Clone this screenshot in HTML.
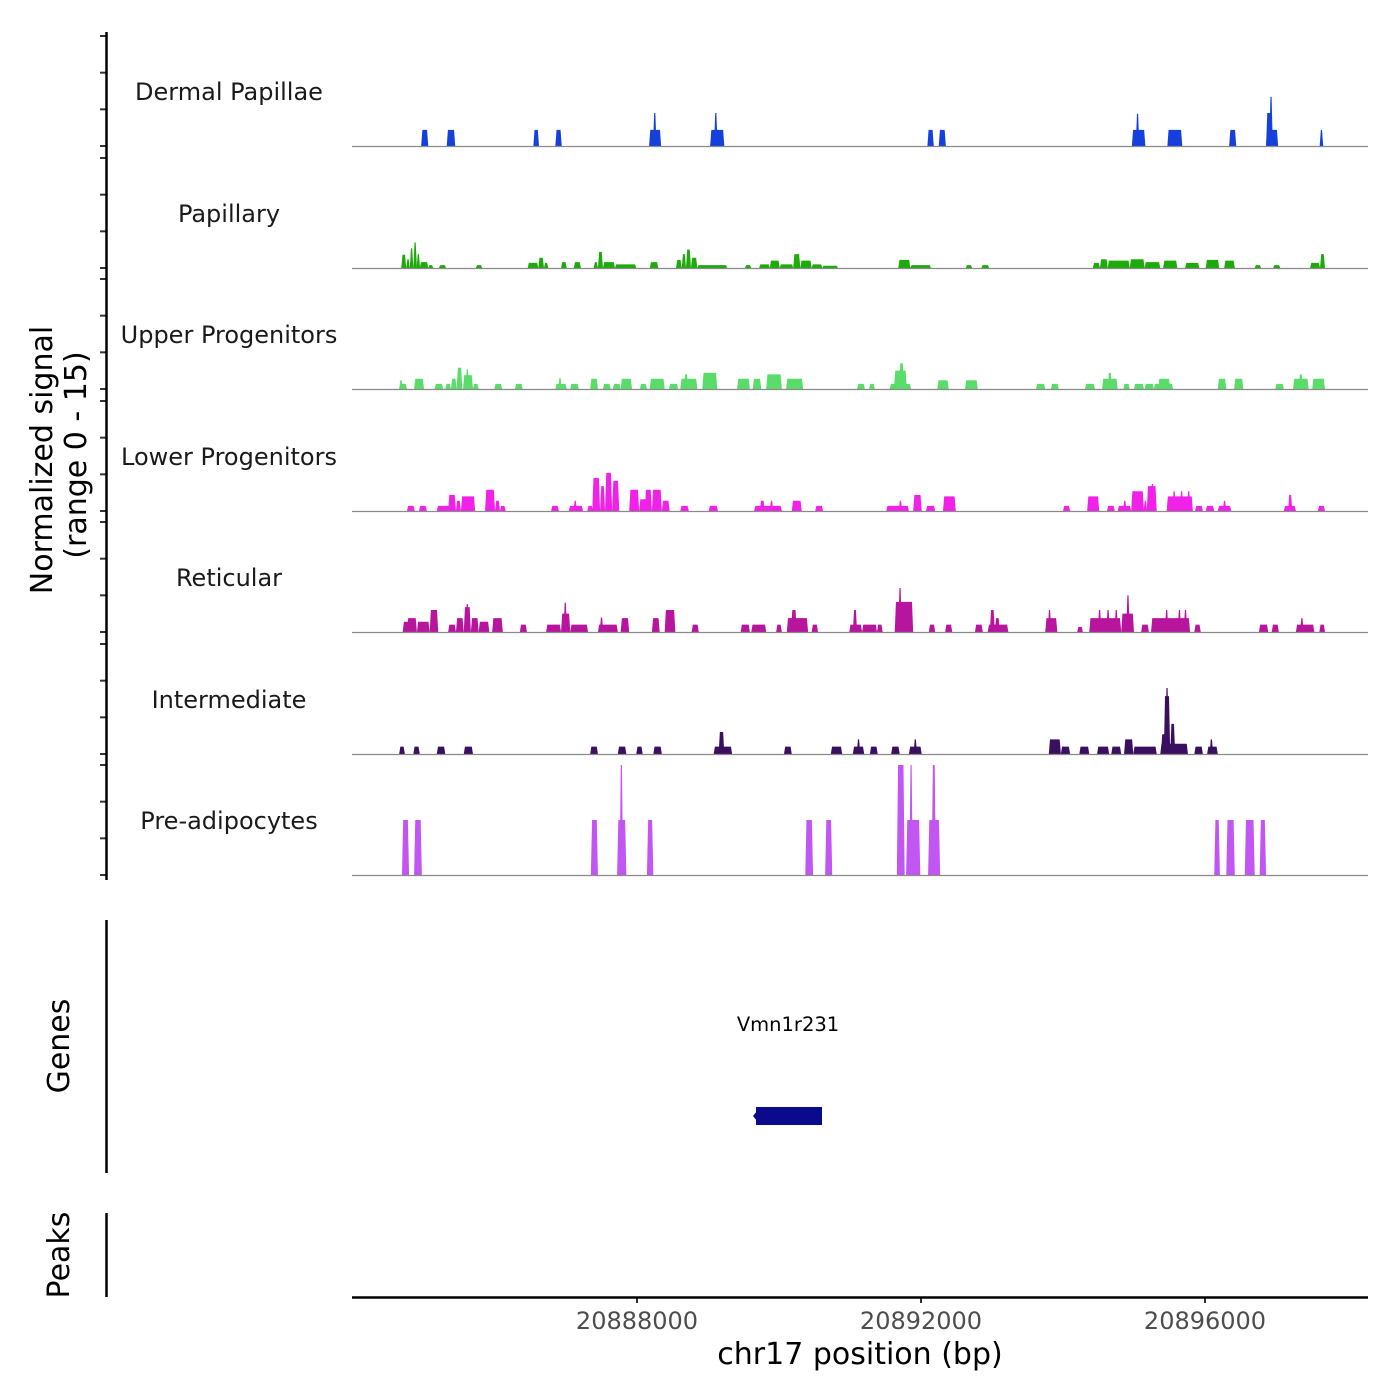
<!DOCTYPE html>
<html><head><meta charset="utf-8"><style>
html,body{margin:0;padding:0;background:#fff;}
svg{display:block;font-family:"DejaVu Sans","Liberation Sans",sans-serif;}
</style></head><body>
<svg id="chart" width="1400" height="1400" viewBox="0 0 1400 1400" xmlns="http://www.w3.org/2000/svg">
<rect width="1400" height="1400" fill="#fff"/>
<g id="tracks"></g>
<g id="axes"></g>
<text transform="translate(52,460) rotate(-90)" text-anchor="middle" font-size="30" fill="#000">Normalized signal</text>
<text transform="translate(86,455) rotate(-90)" text-anchor="middle" font-size="30" fill="#000">(range 0 - 15)</text>
<text transform="translate(69,1046) rotate(-90)" text-anchor="middle" font-size="30" fill="#000">Genes</text>
<text transform="translate(69,1255) rotate(-90)" text-anchor="middle" font-size="30" fill="#000">Peaks</text>
<line x1="106.5" y1="920" x2="106.5" y2="1173" stroke="#000" stroke-width="2.5"/>
<line x1="106.5" y1="1213" x2="106.5" y2="1297" stroke="#000" stroke-width="2.5"/>
<g id="gene">
<text x="788" y="1031" text-anchor="middle" font-size="19.5" fill="#000">Vmn1r231</text>
<rect x="756" y="1107" width="66" height="18" fill="#0a0a8c"/>
<polygon points="753,1116 757,1111 757,1121" fill="#0a0a8c"/>
</g>
<line x1="352" y1="1297.5" x2="1368" y2="1297.5" stroke="#000" stroke-width="2.5"/>
<text x="860" y="1364" text-anchor="middle" font-size="30" fill="#000">chr17 position (bp)</text>
</svg>
<script>
// genomic positions in kb offset from ORIGIN_BP, signal in range 0-15
const ORIGIN_BP = 20884000;
const xTicks = [20888000, 20892000, 20896000];
const trackNames = ["Dermal Papillae","Papillary","Upper Progenitors","Lower Progenitors","Reticular","Intermediate","Pre-adipocytes"];
const trackColors = ["#1540DC","#1DAA0B","#5ADC6A","#F022E8","#B8159E","#3B0F5F","#C156F2"];
const yTicks = [0,5,10,15];

const dermalPapillae = [[0.96,1.06,2.2],[1.32,1.44,2.2],[2.54,2.62,2.2],[2.85,2.94,2.2],[4.17,4.34,2.2],[4.23,4.27,4.5],[5.03,5.23,2.2],[5.09,5.13,4.5],[8.09,8.18,2.2],[8.25,8.35,2.2],[10.97,11.16,2.2],[11.03,11.07,4.4],[11.47,11.68,2.2],[12.34,12.44,2.2],[12.86,13.03,2.2],[12.86,12.94,4.5],[12.91,12.95,6.7],[13.62,13.66,2.2]];

const papillary = [[0.68,0.75,1.8],[0.75,0.80,1.2],[0.80,0.85,2.7],[0.85,0.90,3.5],[0.90,0.94,1.9],[0.94,1.06,0.8],[1.06,1.13,0.4],[1.21,1.31,0.4],[1.73,1.82,0.4],[2.46,2.61,0.7],[2.61,2.69,1.4],[2.69,2.75,0.7],[2.93,3.01,0.8],[3.11,3.21,0.8],[3.39,3.45,0.8],[3.45,3.52,2.2],[3.52,3.69,0.8],[3.69,3.99,0.5],[4.18,4.30,0.8],[4.55,4.63,1.1],[4.63,4.69,1.9],[4.69,4.76,2.5],[4.76,4.85,1.4],[4.85,5.27,0.4],[5.52,5.61,0.4],[5.72,5.87,0.5],[5.87,6.01,1.0],[6.01,6.20,0.5],[6.20,6.30,1.9],[6.30,6.46,1.0],[6.46,6.61,0.5],[6.61,6.83,0.3],[7.68,7.85,1.1],[7.85,8.14,0.4],[8.63,8.72,0.4],[8.85,8.96,0.4],[10.42,10.52,0.7],[10.52,10.63,1.2],[10.63,10.94,1.0],[10.94,11.15,1.2],[11.15,11.37,0.8],[11.41,11.61,1.0],[11.72,11.92,0.7],[12.01,12.20,1.1],[12.27,12.42,1.0],[12.70,12.79,0.4],[12.96,13.06,0.4],[13.48,13.62,0.7],[13.62,13.69,1.9]];

const upperProgenitors = [[0.65,0.76,0.7],[0.66,0.69,1.2],[0.86,1.00,1.4],[1.15,1.27,0.7],[1.30,1.38,0.7],[1.38,1.46,1.4],[1.46,1.54,2.9],[1.55,1.69,1.9],[1.59,1.63,2.7],[1.69,1.77,0.7],[1.99,2.10,0.7],[2.28,2.39,0.7],[2.85,3.01,0.7],[2.90,2.93,1.5],[3.06,3.18,0.7],[3.34,3.45,1.4],[3.52,3.63,0.7],[3.66,3.77,0.7],[3.77,3.93,1.4],[4.04,4.14,0.7],[4.18,4.39,1.4],[4.45,4.58,0.7],[4.61,4.85,1.4],[4.66,4.72,2.0],[4.92,5.13,2.2],[5.41,5.59,1.4],[5.63,5.75,1.4],[5.82,6.04,2.0],[6.10,6.34,1.4],[7.10,7.21,0.7],[7.27,7.35,0.7],[7.56,7.86,0.7],[7.62,7.80,2.5],[7.69,7.76,3.5],[8.23,8.39,1.2],[8.62,8.80,1.2],[9.62,9.75,0.7],[9.83,9.94,0.7],[10.31,10.45,0.7],[10.55,10.77,1.4],[10.63,10.69,2.2],[10.85,10.94,0.7],[11.00,11.14,0.7],[11.15,11.28,0.7],[11.28,11.55,0.7],[11.34,11.51,1.4],[12.18,12.30,1.4],[12.41,12.54,1.4],[12.99,13.11,0.7],[13.24,13.46,1.4],[13.32,13.38,2.0],[13.51,13.69,1.4]];

const lowerProgenitors = [[0.76,0.87,0.7],[0.93,1.04,0.7],[1.18,1.37,0.7],[1.34,1.45,2.2],[1.45,1.52,1.4],[1.52,1.72,2.0],[1.86,2.00,2.9],[2.00,2.07,1.4],[2.07,2.15,0.7],[2.79,2.90,0.7],[3.04,3.24,0.7],[3.11,3.15,1.4],[3.30,3.38,0.7],[3.37,3.48,4.5],[3.48,3.55,3.4],[3.55,3.65,5.2],[3.65,3.75,4.1],[3.89,4.03,2.9],[4.03,4.17,1.6],[4.11,4.21,2.9],[4.21,4.35,2.9],[4.35,4.46,1.4],[4.61,4.73,0.7],[5.01,5.14,0.7],[5.65,6.04,0.7],[5.73,5.80,1.4],[5.87,5.92,1.4],[6.18,6.32,1.4],[6.51,6.62,0.7],[7.51,7.83,0.7],[7.69,7.73,1.4],[7.89,8.01,2.2],[8.07,8.20,0.7],[8.31,8.49,2.0],[10.00,10.10,0.7],[10.34,10.51,2.0],[10.62,10.73,0.7],[10.77,10.96,0.7],[10.85,10.89,1.4],[10.96,11.14,2.7],[11.14,11.18,1.4],[11.18,11.32,3.4],[11.24,11.28,3.7],[11.46,11.83,2.0],[11.54,11.59,2.7],[11.65,11.69,2.7],[11.75,11.79,2.7],[11.86,11.97,0.7],[12.01,12.13,0.7],[12.18,12.37,0.7],[12.25,12.30,1.4],[13.11,13.28,0.7],[13.17,13.23,2.2],[13.59,13.69,0.7]];

const reticular = [[0.70,0.82,1.4],[0.76,0.90,1.9],[0.90,1.08,1.4],[1.08,1.20,3.0],[1.34,1.45,1.0],[1.45,1.56,1.9],[1.56,1.66,3.4],[1.59,1.63,3.8],[1.66,1.77,1.9],[1.77,1.92,1.4],[1.96,2.11,1.9],[2.35,2.45,1.0],[2.72,2.93,1.0],[2.93,3.06,2.5],[2.97,3.01,4.0],[3.06,3.31,1.0],[3.45,3.73,1.0],[3.48,3.52,2.0],[3.77,3.89,1.9],[4.21,4.32,1.9],[4.39,4.54,3.0],[4.77,4.87,1.0],[5.46,5.59,1.0],[5.61,5.82,1.0],[5.96,6.04,1.0],[6.11,6.41,1.9],[6.17,6.25,3.0],[6.46,6.55,1.0],[6.99,7.17,1.0],[7.04,7.10,3.0],[7.17,7.38,1.0],[7.38,7.46,1.0],[7.63,7.89,4.1],[7.68,7.73,6.0],[8.11,8.20,1.0],[8.34,8.44,1.0],[8.76,8.87,1.0],[8.94,9.23,1.0],[8.97,9.04,3.0],[9.04,9.11,1.9],[9.75,9.92,1.9],[9.79,9.83,3.0],[10.20,10.28,0.7],[10.37,10.82,1.9],[10.49,10.54,3.0],[10.61,10.66,3.0],[10.73,10.77,3.0],[10.82,11.00,2.5],[10.89,10.94,5.0],[11.10,11.21,1.0],[11.24,11.79,1.9],[11.44,11.48,3.0],[11.62,11.66,3.0],[11.70,11.75,3.0],[11.85,11.94,1.0],[12.76,12.89,1.0],[12.94,13.04,1.0],[13.28,13.54,1.0],[13.34,13.39,1.9],[13.61,13.69,1.0]];

const intermediate = [[0.65,0.73,1.0],[0.85,0.94,1.0],[1.18,1.30,1.0],[1.56,1.69,1.0],[3.34,3.45,1.0],[3.73,3.85,1.0],[3.99,4.08,1.0],[4.23,4.35,1.0],[5.08,5.34,1.0],[5.15,5.23,3.0],[6.07,6.18,1.0],[6.73,6.89,1.0],[7.04,7.20,1.0],[7.10,7.14,2.0],[7.28,7.39,1.0],[7.58,7.70,1.0],[7.83,8.01,1.0],[7.90,7.94,2.0],[9.80,9.97,2.0],[9.97,10.10,1.0],[10.23,10.37,1.0],[10.48,10.65,1.0],[10.68,10.82,1.0],[10.86,10.99,2.0],[10.99,11.32,1.0],[11.37,11.76,1.4],[11.38,11.45,2.7],[11.42,11.51,7.9],[11.45,11.48,9.0],[11.51,11.58,4.1],[11.85,11.97,1.0],[12.03,12.18,1.0],[12.07,12.11,2.0]];

const preAdipocytes = [[0.69,0.79,7.5],[0.86,0.97,7.5],[3.35,3.45,7.5],[3.72,3.85,7.5],[3.76,3.80,15],[4.14,4.23,7.5],[6.37,6.48,7.5],[6.65,6.75,7.5],[7.66,7.77,15],[7.79,7.99,7.5],[7.85,7.87,15],[8.10,8.27,7.5],[8.15,8.21,15],[12.13,12.21,7.5],[12.30,12.42,7.5],[12.56,12.70,7.5],[12.77,12.86,7.5]];

const trackData = [dermalPapillae, papillary, upperProgenitors, lowerProgenitors, reticular, intermediate, preAdipocytes];
const trackSlugs = ["dermal-papillae","papillary","upper-progenitors","lower-progenitors","reticular","intermediate","pre-adipocytes"];

const NS = "http://www.w3.org/2000/svg";
const plotLeft = 352, plotRight = 1368;
const firstBaseline = 146, trackStep = 121.5, trackH = 110, yMax = 15;
function xScaleKb(kb){ return 353 + kb * 71; }
function xScaleBp(bp){ return xScaleKb((bp - ORIGIN_BP) / 1000); }
function baseline(i){ return Math.round(firstBaseline + i * trackStep); }
function yScale(i, v){ return baseline(i) - v / yMax * trackH; }

const tracksG = document.getElementById('tracks');
const axesG = document.getElementById('axes');

trackData.forEach(function(data, i){
  const g = document.createElementNS(NS, 'g');
  
  
  tracksG.appendChild(g);
  const b = baseline(i);
  const lbl = document.createElementNS(NS, 'text');
  
  
  lbl.setAttribute('x', 229);
  lbl.setAttribute('y', b - 46);
  lbl.setAttribute('text-anchor', 'middle');
  lbl.setAttribute('font-size', '24');
  lbl.setAttribute('fill', '#1a1a1a');
  lbl.textContent = trackNames[i];
  g.appendChild(lbl);
  data.forEach(function(rec){
    let x1 = xScaleKb(rec[0]), x2 = xScaleKb(rec[1]);
    if (x2 - x1 < 3.5) { const m = (x1 + x2) / 2; x1 = m - 1.75; x2 = m + 1.75; }
    const yt = yScale(i, rec[2]);
    const w = x2 - x1;
    const s = Math.min(1.2, w / 3);
    const p = document.createElementNS(NS, 'polygon');
    
    
    p.setAttribute('points', x1 + ',' + b + ' ' + (x1 + s) + ',' + yt + ' ' + (x2 - s) + ',' + yt + ' ' + x2 + ',' + b);
    p.setAttribute('fill', trackColors[i]);
    g.appendChild(p);
  });
  const bl = document.createElementNS(NS, 'line');
  
  
  bl.setAttribute('x1', plotLeft); bl.setAttribute('x2', plotRight);
  bl.setAttribute('y1', b + 0.5); bl.setAttribute('y2', b + 0.5);
  bl.setAttribute('stroke', '#8a8a8a'); bl.setAttribute('stroke-width', '1.2');
  g.appendChild(bl);
  yTicks.forEach(function(t){
    const tk = document.createElementNS(NS, 'line');
    
    
    const y = yScale(i, t);
    tk.setAttribute('x1', 100); tk.setAttribute('x2', 106);
    tk.setAttribute('y1', y); tk.setAttribute('y2', y);
    tk.setAttribute('stroke', '#333'); tk.setAttribute('stroke-width', '2');
    axesG.appendChild(tk);
  });
});

const yl = document.createElementNS(NS, 'line');


yl.setAttribute('x1', 106.5); yl.setAttribute('x2', 106.5);
yl.setAttribute('y1', 32); yl.setAttribute('y2', 880);
yl.setAttribute('stroke', '#000'); yl.setAttribute('stroke-width', '2.5');
axesG.appendChild(yl);

xTicks.forEach(function(t){
  const x = xScaleBp(t);
  const tk = document.createElementNS(NS, 'line');
  
  
  tk.setAttribute('x1', x); tk.setAttribute('x2', x);
  tk.setAttribute('y1', 1297); tk.setAttribute('y2', 1303);
  tk.setAttribute('stroke', '#333'); tk.setAttribute('stroke-width', '2');
  axesG.appendChild(tk);
  const lb = document.createElementNS(NS, 'text');
  
  
  lb.setAttribute('x', x); lb.setAttribute('y', 1329);
  lb.setAttribute('text-anchor', 'middle');
  lb.setAttribute('font-size', '24');
  lb.setAttribute('fill', '#4d4d4d');
  lb.textContent = String(t);
  axesG.appendChild(lb);
});
</script>
</body></html>
